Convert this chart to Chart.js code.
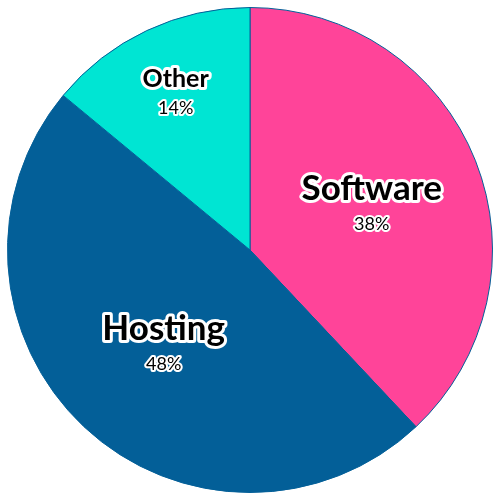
<!DOCTYPE html>
<html>
<head>
<meta charset="utf-8">
<script src="https://cdn.jsdelivr.net/npm/chart.js@4"></script>
<style>
  body { margin: 0; background: #fff; }
  #wrap { width: 500px; height: 500px; }
</style>
</head>
<body>
<div id="wrap"><canvas id="pieChart"></canvas></div>
<script>
var categories = ["Software", "Hosting", "Other"];
var shares = [38, 48, 14];
var sliceColors = ["#ff4499", "#035f98", "#00e5d3"];

// label placement / size per slice (fraction of radius, font px)
var labelRadius = [0.54, 0.52, 0.72];
var nameSize = [35, 35, 25];

var sliceLabels = {
  id: "sliceLabels",
  afterDatasetsDraw: function (chart) {
    var ctx = chart.ctx;
    var meta = chart.getDatasetMeta(0);
    meta.data.forEach(function (arc, i) {
      var p = arc.getProps(["x", "y", "startAngle", "endAngle", "outerRadius"], true);
      var mid = (p.startAngle + p.endAngle) / 2;
      var r = p.outerRadius * labelRadius[i];
      var cx = p.x + Math.cos(mid) * r;
      var cy = p.y + Math.sin(mid) * r;
      var nameY = cy - 13;
      var pctY = nameY + nameSize[i] * 0.6 + 14;
      ctx.save();
      ctx.textAlign = "center";
      ctx.textBaseline = "middle";
      ctx.lineJoin = "round";
      ctx.strokeStyle = "#fff";
      ctx.fillStyle = "#000";

      ctx.font = "bold " + nameSize[i] + "px Lato";
      ctx.lineWidth = 6;
      ctx.strokeText(categories[i], cx, nameY);
      ctx.fillText(categories[i], cx, nameY);

      var pct = shares[i] + "%";
      ctx.font = "18px Lato";
      ctx.lineWidth = 4;
      ctx.strokeText(pct, cx, pctY);
      ctx.fillText(pct, cx, pctY);
      ctx.restore();
    });
  }
};

var ctx = document.getElementById("pieChart").getContext("2d");
var pieChart = new Chart(ctx, {
  type: "pie",
  data: {
    labels: categories,
    datasets: [
      {
        data: shares,
        backgroundColor: sliceColors,
        borderColor: "#035f98",
        borderWidth: 1,
        hoverOffset: 0,
      },
    ],
  },
  options: {
    responsive: true,
    maintainAspectRatio: false,
    animation: false,
    layout: { padding: 7 },
    plugins: {
      legend: { display: false },
      tooltip: { enabled: false },
    },
  },
  plugins: [sliceLabels],
});
</script>
</body>
</html>
